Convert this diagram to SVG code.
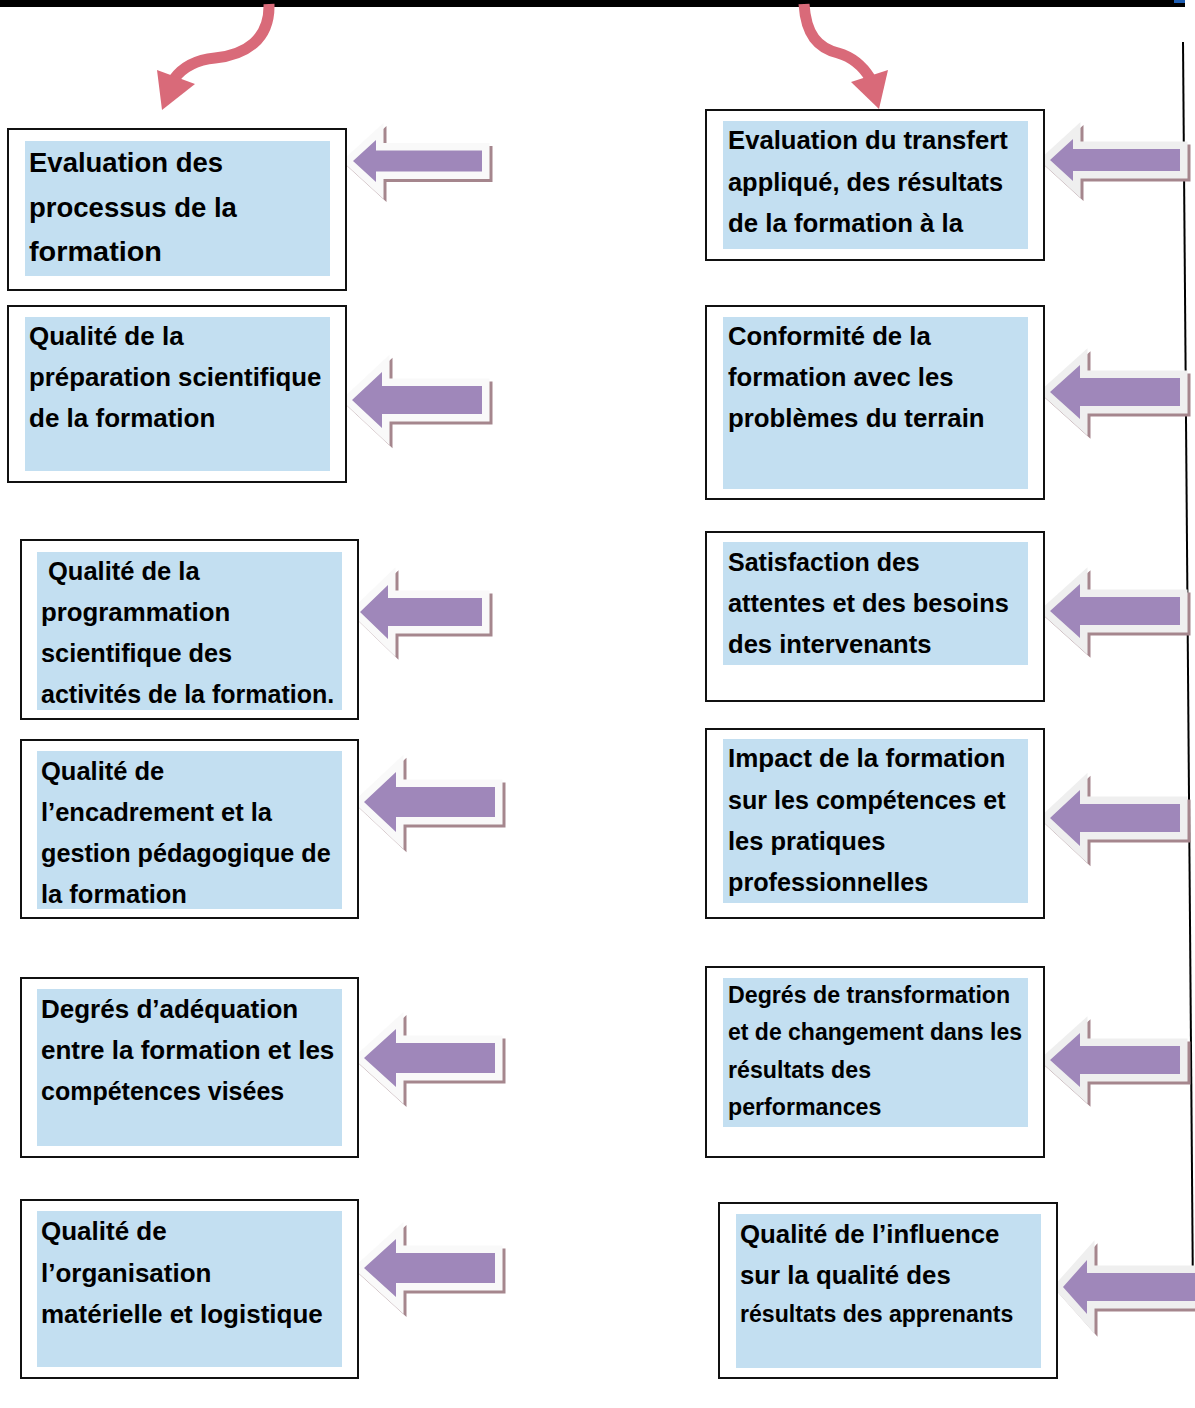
<svg xmlns="http://www.w3.org/2000/svg" width="1195" height="1408" viewBox="0 0 1195 1408" font-size="26">
<style>
.box{fill:#fff;stroke:#111;stroke-width:2}
.in{fill:#c3dff1}
text{font-family:"Liberation Sans",Arial,sans-serif;font-weight:bold;fill:#000}
.ar{fill:#9f87ba;stroke:#f9f9f9;stroke-width:15;stroke-linejoin:miter;paint-order:stroke}
.arr{fill:#9f87ba;stroke:#efefef;stroke-width:15;stroke-linejoin:miter;paint-order:stroke}
.sh{fill:#a5868d;stroke:#a5868d;stroke-width:15;stroke-linejoin:miter}
.red{fill:none;stroke:#d96a79;stroke-width:11}
.redh{fill:#d96a79}
</style>
<rect width="1195" height="1408" fill="#fff"/>
<rect x="0" y="0" width="1185" height="7" fill="#000"/>
<rect x="1174" y="0" width="11" height="3" fill="#1f5fb4"/>
<line x1="1183" y1="42" x2="1193" y2="1300" stroke="#000" stroke-width="2"/>

<g id="connectors">
  <path class="red" d="M269,4 C270,40 245,55 215,58 C195,60 182,68 174,79"/>
  <polygon class="redh" points="157,70 195,84 162,110"/>
  <path class="red" d="M804,4 C806,35 818,48 838,53 C852,57 862,65 870,78"/>
  <polygon class="redh" points="851,82 888,70 879,109"/>

  <g id="arrowA1"><polygon class="sh" transform="translate(3,3)" points="353,161 376,140 376,150.5 482,150.5 482,171.5 376,171.5 376,182"/><polygon class="ar" points="353,161 376,140 376,150.5 482,150.5 482,171.5 376,171.5 376,182"/></g>
  <g id="arrowA2"><polygon class="sh" transform="translate(3,3)" points="352,400 382,372 382,386 482,386 482,414 382,414 382,428"/><polygon class="ar" points="352,400 382,372 382,386 482,386 482,414 382,414 382,428"/></g>
  <g id="arrowA3"><polygon class="sh" transform="translate(3,3)" points="360,612 388,585 388,598 482,598 482,626 388,626 388,639"/><polygon class="ar" points="360,612 388,585 388,598 482,598 482,626 388,626 388,639"/></g>
  <g id="arrowA4"><polygon class="sh" transform="translate(3,3)" points="364,802 396,772 396,787 495,787 495,817 396,817 396,832"/><polygon class="ar" points="364,802 396,772 396,787 495,787 495,817 396,817 396,832"/></g>
  <g id="arrowA5"><polygon class="sh" transform="translate(3,3)" points="364,1058 396,1029 396,1043 495,1043 495,1073 396,1073 396,1087"/><polygon class="ar" points="364,1058 396,1029 396,1043 495,1043 495,1073 396,1073 396,1087"/></g>
  <g id="arrowA6"><polygon class="sh" transform="translate(3,3)" points="364,1268 396,1239 396,1253 495,1253 495,1283 396,1283 396,1297"/><polygon class="ar" points="364,1268 396,1239 396,1253 495,1253 495,1283 396,1283 396,1297"/></g>

  <g id="arrowB1"><polygon class="sh" transform="translate(3,3)" points="1050,160 1073,139 1073,149 1180,149 1180,171 1073,171 1073,181"/><polygon class="arr" points="1050,160 1073,139 1073,149 1180,149 1180,171 1073,171 1073,181"/></g>
  <g id="arrowB2"><polygon class="sh" transform="translate(3,3)" points="1050,392 1080,365 1080,378 1180,378 1180,406 1080,406 1080,419"/><polygon class="arr" points="1050,392 1080,365 1080,378 1180,378 1180,406 1080,406 1080,419"/></g>
  <g id="arrowB3"><polygon class="sh" transform="translate(3,3)" points="1050,611 1080,584 1080,597 1180,597 1180,625 1080,625 1080,638"/><polygon class="arr" points="1050,611 1080,584 1080,597 1180,597 1180,625 1080,625 1080,638"/></g>
  <g id="arrowB4"><polygon class="sh" transform="translate(3,3)" points="1050,818 1080,790 1080,804 1180,804 1180,832 1080,832 1080,846"/><polygon class="arr" points="1050,818 1080,790 1080,804 1180,804 1180,832 1080,832 1080,846"/></g>
  <g id="arrowB5"><polygon class="sh" transform="translate(3,3)" points="1050,1060 1080,1033 1080,1046 1180,1046 1180,1074 1080,1074 1080,1087"/><polygon class="arr" points="1050,1060 1080,1033 1080,1046 1180,1046 1180,1074 1080,1074 1080,1087"/></g>
  <g id="arrowB6"><polygon class="sh" transform="translate(3,3)" points="1063,1287 1087,1260 1087,1273 1205,1273 1205,1301 1087,1301 1087,1314"/><polygon class="arr" points="1063,1287 1087,1260 1087,1273 1205,1273 1205,1301 1087,1301 1087,1314"/></g>
</g>

<g id="L1"><rect class="box" x="8" y="129" width="338" height="161"/><rect class="in" x="25" y="141" width="305" height="135"/>
<text x="29" y="172" font-size="27.5">Evaluation des</text><text x="29" y="217" font-size="27.5">processus de la</text><text x="29" y="261" font-size="27.5" textLength="133" lengthAdjust="spacingAndGlyphs">formation</text></g>
<g id="L2"><rect class="box" x="8" y="306" width="338" height="176"/><rect class="in" x="25" y="317" width="305" height="154"/>
<text x="29" y="345">Qualité de la</text><text x="29" y="386" font-size="25.8">préparation scientifique</text><text x="29" y="427">de la formation</text></g>
<g id="L3"><rect class="box" x="21" y="540" width="337" height="179"/><rect class="in" x="37" y="552" width="305" height="158"/>
<text x="48" y="580" font-size="25.5">Qualité de la</text><text x="41" y="621" font-size="25.8">programmation</text><text x="41" y="662" font-size="25.3">scientifique des</text><text x="41" y="703" font-size="25">activités de la formation.</text></g>
<g id="L4"><rect class="box" x="21" y="740" width="337" height="178"/><rect class="in" x="37" y="751" width="305" height="158"/>
<text x="41" y="780" font-size="25.5">Qualité de</text><text x="41" y="821" font-size="25.5">l’encadrement et la</text><text x="41" y="862" font-size="25.2">gestion pédagogique de</text><text x="41" y="903" font-size="25.5">la formation</text></g>
<g id="L5"><rect class="box" x="21" y="978" width="337" height="179"/><rect class="in" x="37" y="989" width="305" height="157"/>
<text x="41" y="1018">Degrés d’adéquation</text><text x="41" y="1059">entre la formation et les</text><text x="41" y="1100" font-size="25">compétences visées</text></g>
<g id="L6"><rect class="box" x="21" y="1200" width="337" height="178"/><rect class="in" x="37" y="1211" width="305" height="156"/>
<text x="41" y="1240">Qualité de</text><text x="41" y="1282">l’organisation</text><text x="41" y="1323">matérielle et logistique</text></g>

<g id="R1"><rect class="box" x="706" y="110" width="338" height="150"/><rect class="in" x="723" y="121" width="305" height="128"/>
<text x="728" y="149" font-size="25.7">Evaluation du transfert</text><text x="728" y="191" font-size="25.4">appliqué, des résultats</text><text x="728" y="232" font-size="25.8">de la formation à la</text></g>
<g id="R2"><rect class="box" x="706" y="306" width="338" height="193"/><rect class="in" x="723" y="317" width="305" height="172"/>
<text x="728" y="345" font-size="25.7">Conformité de la</text><text x="728" y="386" font-size="25.7">formation avec les</text><text x="728" y="427" font-size="25.8">problèmes du terrain</text></g>
<g id="R3"><rect class="box" x="706" y="532" width="338" height="169"/><rect class="in" x="723" y="542" width="305" height="123"/>
<text x="728" y="571" font-size="25">Satisfaction des</text><text x="728" y="612" font-size="25.4">attentes et des besoins</text><text x="728" y="653" font-size="25.6">des intervenants</text></g>
<g id="R4"><rect class="box" x="706" y="729" width="338" height="189"/><rect class="in" x="723" y="739" width="305" height="164"/>
<text x="728" y="767" font-size="26">Impact de la formation</text><text x="728" y="809" font-size="25.1">sur les compétences et</text><text x="728" y="850" font-size="25.5">les pratiques</text><text x="728" y="891" font-size="25.2">professionnelles</text></g>
<g id="R5"><rect class="box" x="706" y="967" width="338" height="190"/><rect class="in" x="723" y="978" width="305" height="149"/>
<text x="728" y="1003" font-size="23.2">Degrés de transformation</text><text x="728" y="1040" font-size="23">et de changement dans les</text><text x="728" y="1078" font-size="23.2">résultats des</text><text x="728" y="1115" font-size="23.2">performances</text></g>
<g id="R6"><rect class="box" x="719" y="1203" width="338" height="175"/><rect class="in" x="736" y="1214" width="305" height="154"/>
<text x="740" y="1243" font-size="25.8">Qualité de l’influence</text><text x="740" y="1284" font-size="25.8">sur la qualité des</text><text x="740" y="1322" font-size="23.1">résultats des apprenants</text></g>
</svg>
